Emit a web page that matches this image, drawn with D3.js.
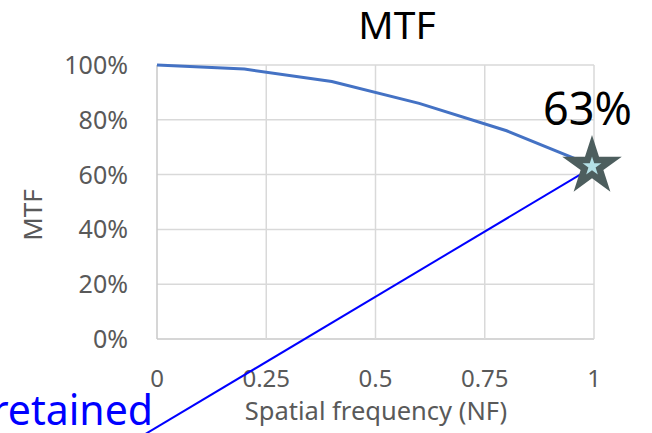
<!DOCTYPE html>
<html>
<head>
<meta charset="utf-8">
<script src="https://cdn.jsdelivr.net/npm/d3@7"></script>
<style>
  body { margin: 0; background: #fff; }
  svg { display: block; font-family: "Noto Sans", "Open Sans", sans-serif; }
</style>
</head>
<body>
<div id="chart"></div>
<script>
// Chart data
const freq = [0, 0.2, 0.4, 0.6, 0.8, 1];
const mtf = [1, 0.985, 0.94, 0.86, 0.76, 0.63];
const xTicks = [0, 0.25, 0.5, 0.75, 1];
const xTickLabels = ['0', '0.25', '0.5', '0.75', '1'];
const yTicks = [0, 0.2, 0.4, 0.6, 0.8, 1];
const yTickLabels = ['0%', '20%', '40%', '60%', '80%', '100%'];
// callout line from the highlighted point down to the "retained" note
const calloutX = [1, -0.03];
const calloutY = [0.63, -0.35];
const highlight = { x: 1, y: 0.63, label: '63%' };

const width = 652, height = 433;
const svg = d3.select('#chart').append('svg')
    .attr('width', width)
    .attr('height', height);

const x = d3.scaleLinear().domain([0, 1]).range([157, 594]);
const y = d3.scaleLinear().domain([0, 1]).range([339, 65]);

// Grid lines
svg.append('g')
    .selectAll('line')
    .data(yTicks)
    .join('line')
    .attr('x1', x(0)).attr('x2', x(1))
    .attr('y1', d => y(d)).attr('y2', d => y(d))
    .attr('stroke', d => d === 0 ? '#c8c8c8' : '#d9d9d9')
    .attr('stroke-width', 1.5);

svg.append('g')
    .selectAll('line')
    .data(xTicks)
    .join('line')
    .attr('x1', d => x(d)).attr('x2', d => x(d))
    .attr('y1', y(0)).attr('y2', y(1))
    .attr('stroke', d => d === 0 ? '#c8c8c8' : '#d9d9d9')
    .attr('stroke-width', 1.5);

// Tick labels
svg.append('g')
    .selectAll('text')
    .data(yTicks)
    .join('text')
    .attr('x', 128)
    .attr('y', d => y(d) + 9)
    .attr('text-anchor', 'end')
    .attr('font-size', 25)
    .attr('fill', '#595959')
    .text((d, i) => yTickLabels[i]);

svg.append('g')
    .selectAll('text')
    .data(xTicks)
    .join('text')
    .attr('x', d => x(d))
    .attr('y', 387)
    .attr('text-anchor', 'middle')
    .attr('font-size', 24)
    .attr('fill', '#595959')
    .text((d, i) => xTickLabels[i]);

// Axis titles
svg.append('text')
    .attr('x', 376)
    .attr('y', 420)
    .attr('text-anchor', 'middle')
    .attr('font-size', 25.5)
    .attr('fill', '#595959')
    .text('Spatial frequency (NF)');

svg.append('text')
    .attr('transform', 'translate(42, 215) rotate(-90)')
    .attr('text-anchor', 'middle')
    .attr('font-size', 26)
    .attr('fill', '#595959')
    .text('MTF');

// Title
svg.append('text')
    .attr('x', 397)
    .attr('y', 39)
    .attr('text-anchor', 'middle')
    .attr('font-size', 39)
    .attr('fill', '#000')
    .text('MTF');

// MTF curve
const line = d3.line()
    .x((d, i) => x(freq[i]))
    .y(d => y(d));

svg.append('path')
    .datum(mtf)
    .attr('d', line)
    .attr('fill', 'none')
    .attr('stroke', '#4472c4')
    .attr('stroke-width', 3);

// Callout line
svg.append('line')
    .attr('x1', x(calloutX[0])).attr('y1', y(calloutY[0]))
    .attr('x2', x(calloutX[1])).attr('y2', y(calloutY[1]))
    .attr('stroke', '#0000ff')
    .attr('stroke-width', 2);

// Star marker
const star = d3.symbol().type(d3.symbolStar);
svg.append('path')
    .attr('transform', `translate(${x(highlight.x) - 2}, ${y(highlight.y)})`)
    .attr('d', star.size(1100)())
    .attr('fill', '#4d5e5e');
svg.append('path')
    .attr('transform', `translate(${x(highlight.x) - 2}, ${y(highlight.y)})`)
    .attr('d', star.size(110)())
    .attr('fill', '#b4e0e6');

svg.append('text')
    .attr('x', 543)
    .attr('y', 125)
    .attr('font-size', 45)
    .attr('fill', '#000')
    .text(highlight.label);

// Note text, cut off at the left edge
svg.append('text')
    .attr('x', 153)
    .attr('y', 425)
    .attr('text-anchor', 'end')
    .attr('font-size', 41)
    .attr('fill', '#0000ff')
    .text('retained');
</script>
</body>
</html>
